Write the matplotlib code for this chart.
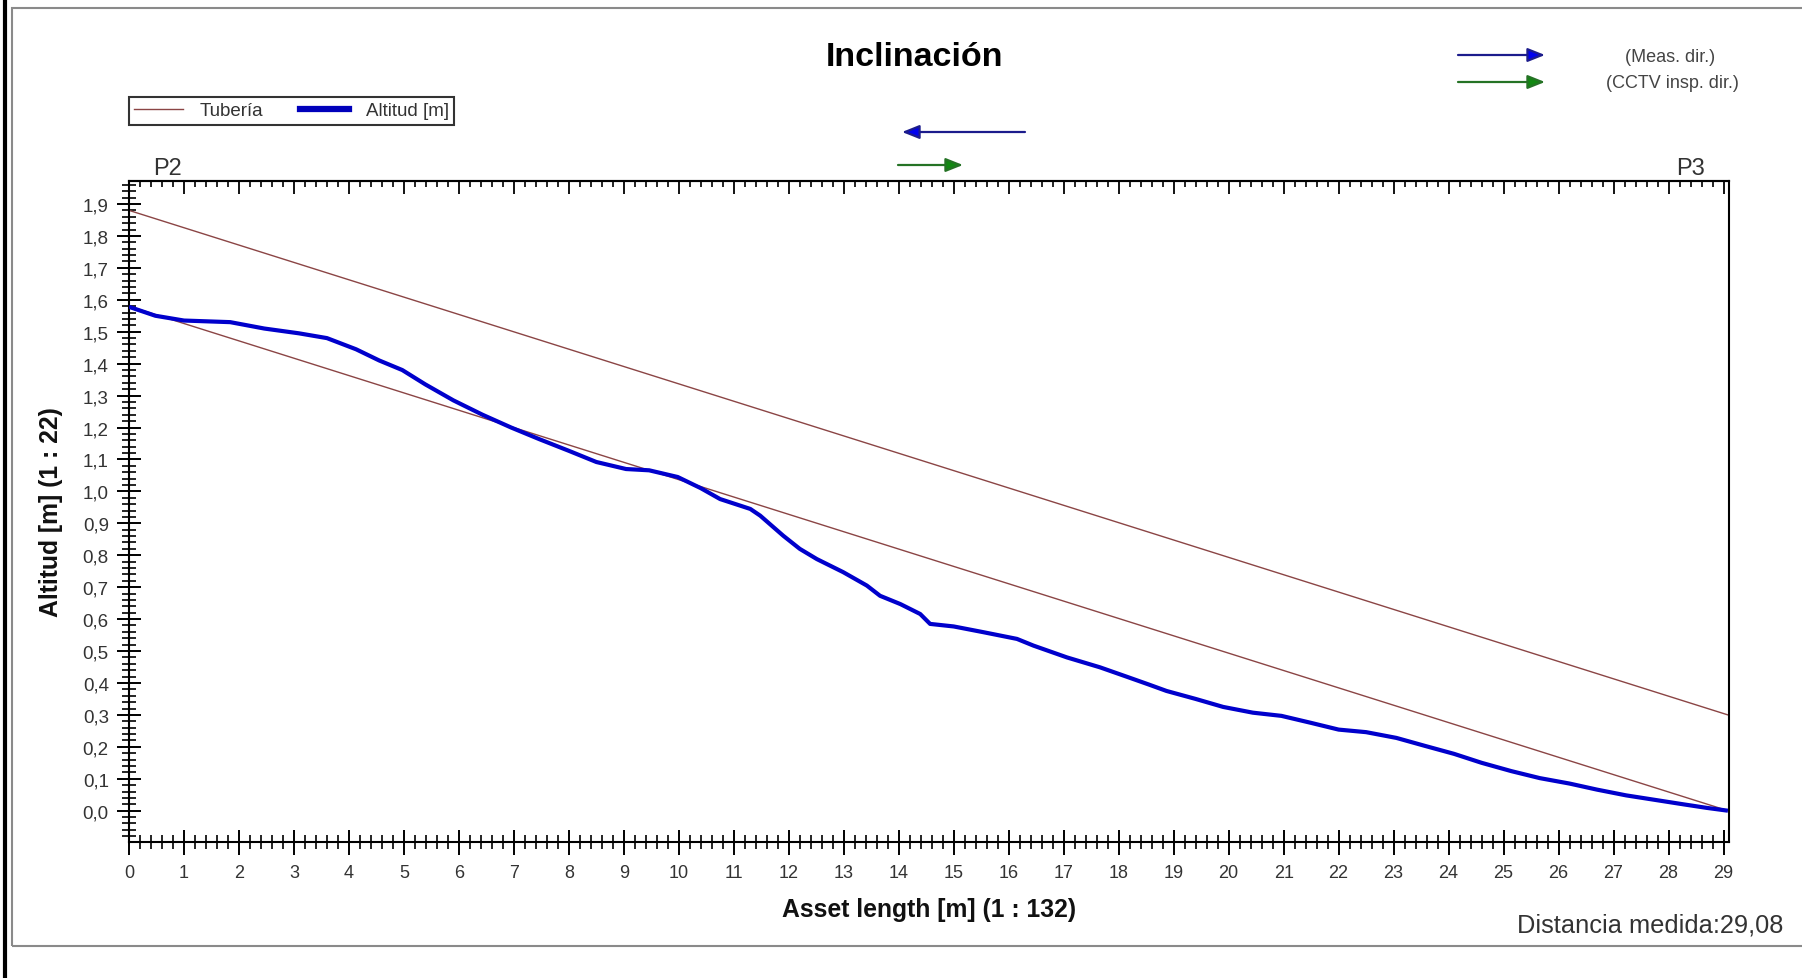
import matplotlib
matplotlib.use('Agg')
import matplotlib.pyplot as plt
from matplotlib.ticker import MultipleLocator, FuncFormatter
from matplotlib.patches import FancyArrowPatch, Rectangle
from matplotlib.lines import Line2D

plt.rcParams['font.family'] = ['Liberation Sans', 'DejaVu Sans']

# ---------------- data ----------------
dist = [0.0, 0.48, 1.0, 1.84, 2.46, 3.09, 3.6, 4.13, 4.55, 4.97,
        5.39, 5.9, 6.43, 6.95, 7.47, 8.0, 8.5, 9.04, 9.46, 9.98,
        10.4, 10.75, 11.3, 11.48, 11.9, 12.2, 12.51, 12.99, 13.42, 13.66,
        14.03, 14.39, 14.57, 15.0, 15.54, 16.15, 16.45, 17.06, 17.66, 18.14,
        18.55, 18.87, 19.4, 19.9, 20.44, 20.96, 21.5, 22.0, 22.5, 23.05,
        23.57, 24.1, 24.6, 25.14, 25.66, 26.2, 26.7, 27.23, 27.75, 28.27,
        28.69, 29.08]
altitude = [1.578, 1.55, 1.535, 1.53, 1.51, 1.495, 1.48, 1.445, 1.41, 1.38,
            1.335, 1.285, 1.24, 1.20, 1.163, 1.127, 1.092, 1.07, 1.066, 1.045,
            1.01, 0.976, 0.945, 0.924, 0.861, 0.82, 0.788, 0.747, 0.705, 0.673,
            0.647, 0.616, 0.585, 0.577, 0.559, 0.538, 0.517, 0.48, 0.449, 0.42,
            0.395, 0.375, 0.35, 0.325, 0.307, 0.297, 0.275, 0.254, 0.246, 0.228,
            0.203, 0.178, 0.15, 0.124, 0.102, 0.085, 0.066, 0.048, 0.034, 0.02,
            0.009, 0.0]
pipe_x = [0.0, 29.08]
pipe_bottom = [1.58, 0.0]
pipe_top = [1.88, 0.30]

title = "Inclinación"
xlabel = "Asset length [m] (1 : 132)"
ylabel = "Altitud [m] (1 : 22)"
legend_labels = ["Tubería", "Altitud [m]"]
start_node, end_node = "P2", "P3"
measured_text = "Distancia medida:29,08"
dir_labels = ["(Meas. dir.)", "(CCTV insp. dir.)"]

# ---------------- layout ----------------
W, H = 1802, 979
fig = plt.figure(figsize=(W / 100, H / 100), dpi=100)
fig.patch.set_facecolor('white')

def fx(px):
    return px / W

def fy(py):
    return 1 - py / H

brown = '#8b4545'
blue = '#0000cc'
txtc = '#333333'

ax = fig.add_axes([fx(129), fy(843), fx(1729) - fx(129), fy(182) - fy(843)])
ax.plot(pipe_x, pipe_top, color=brown, lw=1.0, zorder=2)
ax.plot(pipe_x, pipe_bottom, color=brown, lw=1.0, zorder=2)
ax.plot(dist, altitude, color=blue, lw=3.0, zorder=3, solid_capstyle='butt')

ax.set_xlim(0, 29.1)
ax.set_ylim(-0.098, 1.972)

ax.xaxis.set_major_locator(MultipleLocator(1))
ax.xaxis.set_minor_locator(MultipleLocator(0.2))
ax.yaxis.set_major_locator(MultipleLocator(0.1))
ax.yaxis.set_minor_locator(MultipleLocator(0.02))
ax.yaxis.set_major_formatter(FuncFormatter(lambda v, p: f"{v:.1f}".replace('.', ',')))

ax.tick_params(axis='x', which='major', direction='inout', length=18, width=1.4,
               top=False, labelsize=13, labelcolor=txtc, pad=7)
ax.tick_params(axis='x', which='minor', direction='inout', length=10, width=1.2, top=False)
ax.tick_params(axis='y', which='major', direction='inout', length=17, width=1.4,
               right=False, labelsize=13.5, labelcolor=txtc, pad=6)
ax.tick_params(axis='y', which='minor', direction='inout', length=9.5, width=1.2, right=False)

for s in ax.spines.values():
    s.set_linewidth(1.5)

sec = ax.secondary_xaxis('top')
sec.xaxis.set_major_locator(MultipleLocator(1))
sec.xaxis.set_minor_locator(MultipleLocator(0.2))
sec.tick_params(axis='x', which='major', direction='in', length=9.5, width=1.3, labeltop=False)
sec.tick_params(axis='x', which='minor', direction='in', length=4.5, width=1.2)
sec.spines['top'].set_linewidth(1.5)

# ---------------- texts ----------------
fig.text(fx(915), fy(58), title, ha='center', va='center', fontsize=24.5, fontweight='bold', color='black')
fig.text(fx(929), fy(910), xlabel, ha='center', va='center', fontsize=17.8, fontweight='bold', color='#111111')
fig.text(fx(51), fy(512), ylabel, ha='center', va='center', rotation=90, fontsize=17.8,
         fontweight='bold', color='#111111')
fig.text(fx(1783), fy(926), measured_text, ha='right', va='center', fontsize=18.3, color=txtc)
fig.text(fx(153), fy(175), start_node, ha='left', va='baseline', fontsize=17, color=txtc)
fig.text(fx(1705), fy(175), end_node, ha='right', va='baseline', fontsize=17, color=txtc)
fig.text(fx(1670), fy(57), dir_labels[0], ha='center', va='center', fontsize=13, color='#444444')
fig.text(fx(1672), fy(84), dir_labels[1], ha='center', va='center', fontsize=13, color='#444444')

# ---------------- arrows ----------------
def arrow(x0, y0, x1, y1, ec, fc):
    a = FancyArrowPatch((fx(x0), fy(y0)), (fx(x1), fy(y1)), transform=fig.transFigure,
                        arrowstyle='-|>,head_length=0.7,head_width=0.28', mutation_scale=15,
                        lw=1.6, edgecolor=ec, facecolor=fc, shrinkA=0, shrinkB=0)
    fig.add_artist(a)

arrow(1025, 133, 902, 133, '#1c1c8c', '#0000ee')
arrow(898, 166, 963, 166, '#257325', '#118811')
arrow(1458, 56, 1545, 56, '#1c1c8c', '#0000ee')
arrow(1458, 83, 1545, 83, '#257325', '#118811')

# ---------------- legend ----------------
handles = [Line2D([], [], color=brown, lw=1.0), Line2D([], [], color='#0000bb', lw=4.5)]
leg = fig.legend(handles=handles, labels=legend_labels, loc='upper left',
                 bbox_to_anchor=(fx(129), fy(98)), ncol=2, frameon=True, fancybox=False,
                 edgecolor='black', fontsize=13.5, borderaxespad=0, borderpad=0.28,
                 handlelength=2.6, handletextpad=0.9, columnspacing=1.95, labelcolor=txtc)
leg.get_frame().set_linewidth(1.5)

# ---------------- frame ----------------
fig.add_artist(Line2D([fx(5), fx(5)], [0, 1], transform=fig.transFigure, color='black', lw=3))
fig.add_artist(Rectangle((fx(12), fy(947)), 1.01 - fx(12), fy(9) - fy(947),
                         transform=fig.transFigure, fill=False, edgecolor='#8a8a8a', lw=1.5,
                         clip_on=False))

fig.savefig('out.png', dpi=100, facecolor='white')
